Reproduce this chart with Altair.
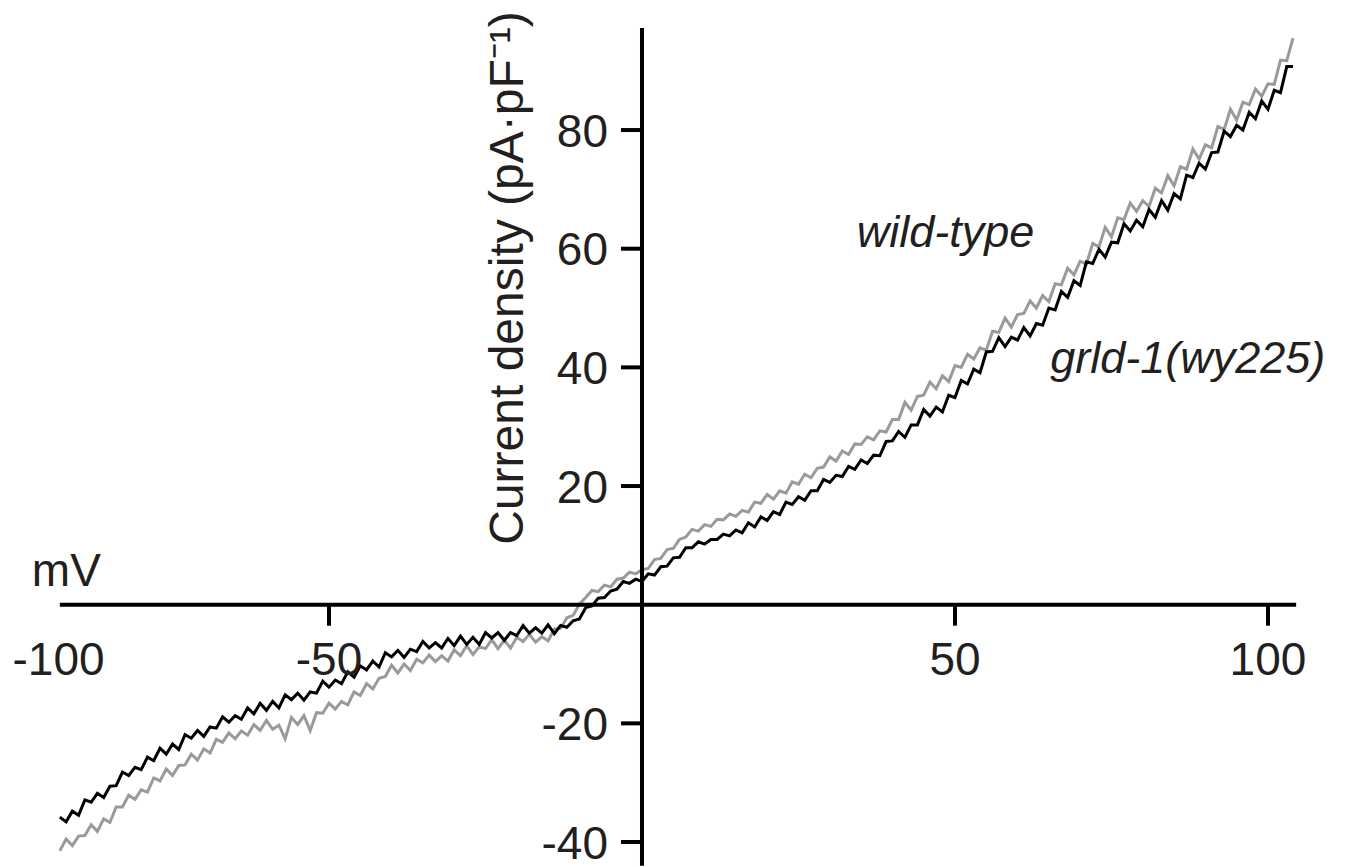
import altair as alt
import pandas as pd

# Membrane potential (mV), 1 mV sampling of the ramp
MV = list(range(-93, 105))

# Current density (pA/pF)
GRLD1 = [
    -35.8, -36.6, -34.8, -35.5, -32.9, -33.3, -31.8, -32.5, -30.6, -30.5,
    -28.2, -28.8, -27.4, -27.8, -25.7, -26.3, -24.2, -25.2, -23.5, -24.4,
    -21.9, -22.5, -21.2, -22.2, -20.6, -20.8, -18.9, -19.8, -18.7, -19.3,
    -17.4, -18.4, -16.6, -17.8, -16.3, -17.4, -15.2, -16.0, -14.9, -16.1,
    -14.7, -14.9, -12.9, -13.9, -12.7, -13.3, -11.3, -12.2, -10.3, -11.0,
    -9.5, -10.5, -8.1, -8.8, -7.7, -8.9, -7.5, -7.9, -6.2, -7.3,
    -6.4, -7.3, -5.7, -6.9, -5.3, -6.7, -5.5, -6.7, -4.7, -5.6,
    -4.7, -6.0, -4.7, -5.2, -3.5, -4.8, -3.9, -4.8, -3.4, -4.9,
    -3.5, -3.8, -2.7, -2.4, -0.5, -0.2, 1.1, 1.2, 2.3, 2.6,
    3.9, 3.6, 4.3, 3.9, 5.2, 5.0, 6.4, 6.5, 7.9, 8.0,
    9.6, 9.6, 10.6, 10.2, 11.0, 11.0, 11.9, 11.6, 12.6, 12.1,
    13.8, 13.1, 14.8, 14.2, 15.7, 15.2, 17.3, 16.9, 18.2, 17.6,
    19.2, 19.2, 21.1, 20.6, 21.8, 21.6, 23.3, 22.8, 24.4, 23.8,
    25.2, 25.1, 27.5, 27.6, 29.2, 28.2, 30.3, 30.3, 32.9, 31.8,
    33.3, 32.5, 35.3, 34.9, 37.8, 37.2, 39.7, 39.1, 42.6, 42.7,
    45.0, 43.5, 45.1, 44.6, 46.7, 45.3, 47.4, 47.1, 50.0, 49.7,
    52.8, 51.8, 54.6, 53.8, 57.8, 57.5, 59.9, 58.6, 61.1, 61.0,
    64.2, 63.0, 64.8, 63.7, 66.6, 65.3, 68.1, 66.5, 69.3, 68.4,
    72.4, 72.0, 74.4, 73.4, 76.2, 76.3, 79.8, 78.9, 80.8, 80.0,
    83.0, 81.9, 84.9, 83.5, 86.7, 86.3, 90.7, 90.7,
]

WILD_TYPE = [
    -41.5, -39.5, -40.6, -39.0, -38.9, -37.1, -38.2, -36.1, -36.7, -34.1,
    -34.1, -32.1, -32.8, -31.2, -31.6, -29.2, -29.7, -27.7, -28.8, -27.1,
    -27.0, -25.2, -26.2, -24.3, -25.0, -22.7, -23.2, -21.6, -22.6, -21.3,
    -22.0, -20.2, -21.2, -19.5, -21.0, -20.3, -22.6, -19.0, -20.2, -18.7,
    -21.2, -18.2, -18.3, -16.6, -17.6, -16.3, -16.9, -14.7, -15.3, -13.3,
    -14.2, -12.4, -12.1, -10.2, -11.5, -10.0, -11.1, -9.2, -9.8, -8.5,
    -9.6, -8.6, -9.5, -7.6, -8.6, -6.9, -8.4, -7.1, -7.4, -5.9,
    -7.4, -6.0, -7.3, -5.5, -6.2, -5.0, -6.3, -5.4, -6.1, -4.1,
    -4.0, -2.2, -1.8, 0.1, 1.2, 2.4, 2.2, 3.3, 3.0, 4.3,
    4.5, 5.5, 5.2, 5.9, 6.1, 7.6, 7.8, 9.3, 9.5, 11.0,
    11.4, 12.7, 12.4, 13.5, 13.2, 14.4, 14.3, 15.3, 14.9, 15.9,
    15.6, 17.3, 17.1, 18.6, 17.8, 19.2, 18.8, 20.7, 20.3, 22.0,
    21.4, 23.0, 23.2, 24.9, 24.2, 25.9, 25.3, 27.1, 27.0, 28.3,
    27.8, 29.3, 29.1, 31.2, 31.2, 34.1, 32.8, 35.1, 35.3, 37.5,
    36.4, 38.6, 37.6, 40.3, 40.0, 42.2, 41.4, 43.3, 42.9, 46.1,
    45.9, 48.3, 46.8, 48.9, 49.1, 51.2, 50.0, 52.1, 51.1, 54.1,
    53.9, 56.7, 55.6, 57.9, 57.4, 60.9, 60.3, 63.6, 62.0, 65.2,
    64.9, 67.7, 66.3, 68.1, 67.1, 70.2, 69.4, 72.3, 70.6, 73.8,
    73.4, 76.8, 75.1, 77.5, 77.0, 80.6, 80.1, 83.5, 81.7, 84.7,
    84.3, 86.9, 85.7, 87.8, 87.7, 91.8, 91.7, 95.5,
]

# Axes
X_AXIS_RANGE = [-93.0, 104.5]
Y_AXIS_RANGE = [-44.0, 97.2]
X_TICKS = [-50, 50, 100]
X_LABELS = ["-100", "-50", "50", "100"]
X_LABEL_AT = [-93.2, -50, 50, 100]   # "-100" sits under the axis start
Y_TICKS = [-40, -20, 20, 40, 60, 80]
Y_LABELS = ["-40", "-20", "20", "40", "60", "80"]

SERIES_NAMES = ["wild-type", "grld-1(wy225)"]
SERIES_LABEL_X = [34.3, 65.2]
SERIES_LABEL_Y = [60.3, 39.05]

FONT = "Liberation Sans"
TXT = "#231f20"
GRAY = "#9a9a9a"
BLACK = "#000000"

xs = alt.Scale(domain=[-101.28, 115.34], nice=False, zero=False)
ys = alt.Scale(domain=[-44.21, 100.57], nice=False, zero=False)

n = min(len(MV), len(GRLD1), len(WILD_TYPE))
wt_df = pd.DataFrame({"mv": MV[:n], "i": WILD_TYPE[:n]})
mut_df = pd.DataFrame({"mv": MV[:n], "i": GRLD1[:n]})


def X(field, t="Q"):
    return alt.X(f"{field}:{t}", scale=xs, axis=None)


def Y(field, t="Q"):
    return alt.Y(f"{field}:{t}", scale=ys, axis=None)


wt_line = alt.Chart(wt_df).mark_line(color=GRAY, strokeWidth=3).encode(
    x=X("mv"), y=Y("i"), order="mv:Q"
)
mut_line = alt.Chart(mut_df).mark_line(color=BLACK, strokeWidth=3).encode(
    x=X("mv"), y=Y("i"), order="mv:Q"
)

x_axis = alt.Chart(pd.DataFrame({"a": [X_AXIS_RANGE[0]], "b": [X_AXIS_RANGE[1]], "y": [0]})).mark_rule(
    color=BLACK, strokeWidth=4
).encode(x=X("a"), x2="b", y=Y("y"))

y_axis = alt.Chart(pd.DataFrame({"a": [Y_AXIS_RANGE[0]], "b": [Y_AXIS_RANGE[1]], "x": [0]})).mark_rule(
    color=BLACK, strokeWidth=4
).encode(y=Y("a"), y2="b", x=X("x"))

x_ticks = alt.Chart(pd.DataFrame({"v": X_TICKS, "z": [0] * len(X_TICKS)})).mark_rule(
    color=BLACK, strokeWidth=4, y2Offset=21
).encode(x=X("v"), y=Y("z"), y2="z")

y_ticks = alt.Chart(pd.DataFrame({"v": Y_TICKS, "z": [0] * len(Y_TICKS)})).mark_rule(
    color=BLACK, strokeWidth=4, x2Offset=-21
).encode(y=Y("v"), x=X("z"), x2="z")

x_labels = alt.Chart(pd.DataFrame({"v": X_LABEL_AT, "t": X_LABELS, "z": [0] * len(X_LABELS)})).mark_text(
    font=FONT, fontSize=46, color=TXT, align="center", baseline="alphabetic", dy=70
).encode(x=X("v"), y=Y("z"), text="t:N")

y_labels = alt.Chart(pd.DataFrame({"v": Y_TICKS, "t": Y_LABELS, "z": [0] * len(Y_TICKS)})).mark_text(
    font=FONT, fontSize=46, color=TXT, align="right", baseline="alphabetic", dx=-34, dy=16.5
).encode(x=X("z"), y=Y("v"), text="t:N")

mv_label = alt.Chart(pd.DataFrame({"x": [X_AXIS_RANGE[0]], "y": [0], "t": ["mV"]})).mark_text(
    font=FONT, fontSize=46, color=TXT, align="left", baseline="alphabetic", dx=-28, dy=-19
).encode(x=X("x"), y=Y("y"), text="t:N")

y_title = alt.Chart(pd.DataFrame({"t": ["Current density (pA\u00b7pF\u207b\u00b9)"]})).mark_text(
    font=FONT, fontSize=48, color=TXT, align="center", baseline="alphabetic", angle=270
).encode(x=alt.value(515), y=alt.value(270), text="t:N")

series_labels = alt.Chart(pd.DataFrame({"x": SERIES_LABEL_X, "y": SERIES_LABEL_Y, "t": SERIES_NAMES})).mark_text(
    font=FONT, fontSize=45, fontStyle="italic", color=TXT, align="left", baseline="alphabetic"
).encode(x=X("x"), y=Y("y"), text="t:N")

chart = alt.layer(
    wt_line, mut_line, x_axis, y_axis, x_ticks, y_ticks,
    x_labels, y_labels, mv_label, y_title, series_labels
).properties(
    width=1356, height=859, padding=0, autosize=alt.AutoSizeParams(type="none")
).configure_view(stroke=None)

chart.save("out.html", embed_options={"renderer": "svg", "actions": False})
